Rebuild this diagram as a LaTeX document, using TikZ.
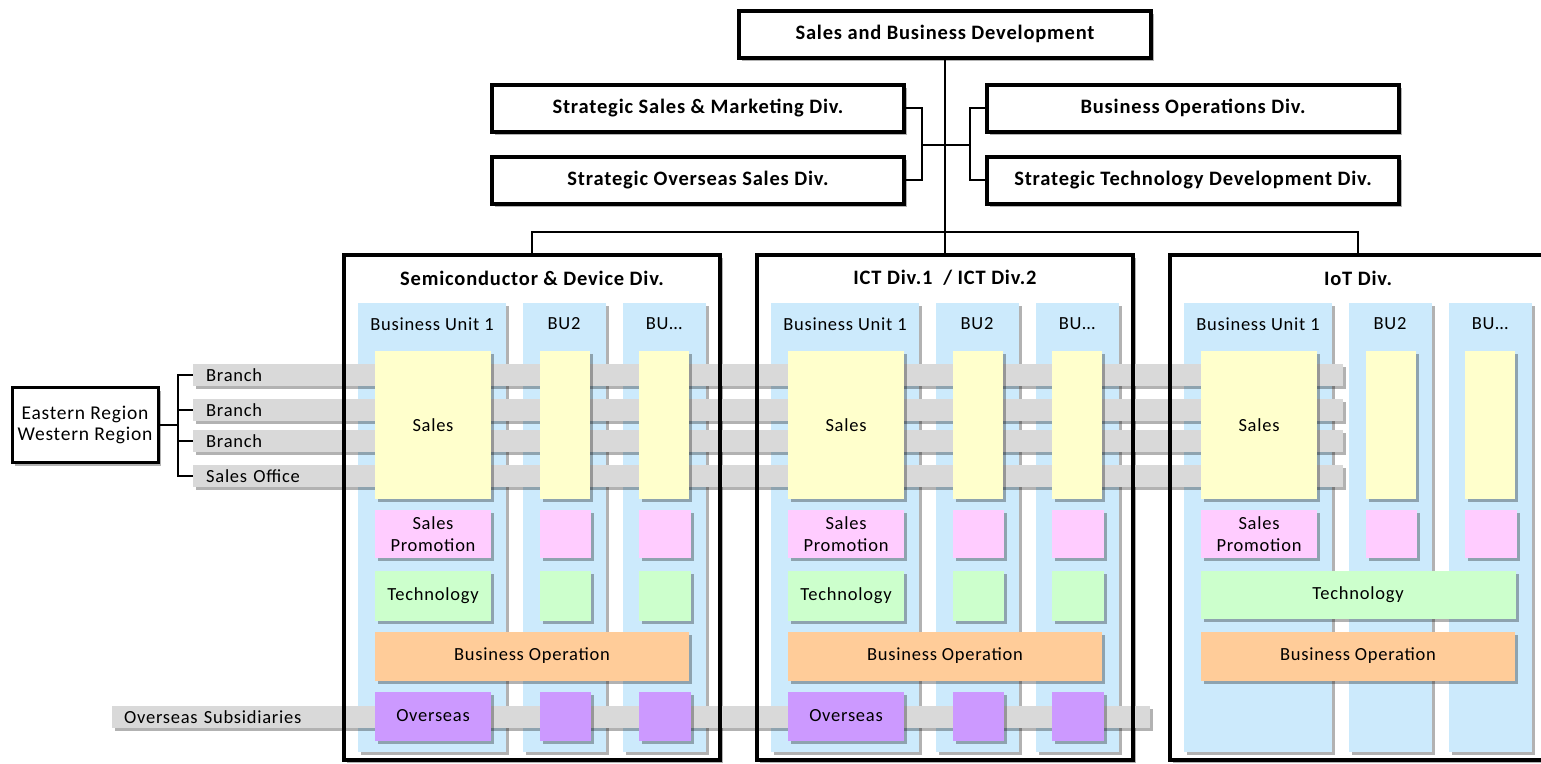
\documentclass[tikz,border=0pt]{standalone}
\usepackage{fontspec}
\setmainfont{Carlito}[LetterSpace=4]
\usetikzlibrary{positioning, shadows, calc}
\definecolor{buBlue}{RGB}{204,234,252}
\definecolor{barGray}{RGB}{217,217,217}
\definecolor{salesYellow}{RGB}{255,255,204}
\definecolor{promoPink}{RGB}{255,204,255}
\definecolor{techGreen}{RGB}{204,255,204}
\definecolor{opsOrange}{RGB}{255,204,153}
\definecolor{overPurple}{RGB}{204,153,255}

\begin{document}
\begin{tikzpicture}[
        x=1pt, y=-1pt,
        % ombre portée
        softShadow/.style={
            drop shadow={shadow xshift=3pt, shadow yshift=-3pt, opacity=.3, fill=black}
        },
        % cadres du haut
        topBox/.style={
            draw=black, line width=4pt, fill=white, softShadow,
            minimum width=412pt, minimum height=47pt, inner sep=0pt,
            font=\bfseries\fontsize{20.5}{24}\selectfont
        },
        % grandes divisions
        divBox/.style={
            fill=white, softShadow, inner sep=0pt,
            minimum width=376pt, minimum height=505pt
        },
        divLine/.style={draw=black, line width=4pt},
        divTitle/.style={font=\bfseries\fontsize{20.5}{24}\selectfont, inner sep=0pt},
        % colonnes BU
        buCol/.style={
            fill=buBlue, softShadow, inner sep=0pt, minimum height=449pt
        },
        buText/.style={font=\fontsize{18.5}{22}\selectfont, inner sep=0pt},
        % boîtes de couleur
        cellBox/.style={
            softShadow, inner sep=0pt, align=center,
            font=\fontsize{18.5}{22}\selectfont
        },
        salesBox/.style={cellBox, fill=salesYellow, minimum height=148pt},
        promoBox/.style={cellBox, fill=promoPink, minimum height=48pt},
        techBox/.style={cellBox, fill=techGreen, minimum height=50pt},
        opsBox/.style={cellBox, fill=opsOrange, minimum height=49pt},
        overBox/.style={cellBox, fill=overPurple, minimum height=49pt},
        % barres grises
        barBox/.style={
            fill=barGray, softShadow, anchor=west, inner ysep=0pt,
            minimum height=22pt, align=left,
            font=\fontsize{18.5}{22}\selectfont
        },
        regionBox/.style={
            draw=black, line width=3pt, fill=white, softShadow,
            minimum width=146pt, minimum height=75pt, inner sep=0pt,
            align=center, font=\fontsize{19.5}{21}\selectfont
        },
        treeLine/.style={draw=black, line width=1.6pt}
    ]

    \useasboundingbox (0,0) rectangle (1541,763);
    \clip (0,0) rectangle (1541,763);

    % Direction
    \node[topBox] (sbd) at (945,34) {Sales and Business Development};

    \node[topBox] (ssm) at (698,108) {Strategic Sales \& Marketing Div.};
    \node[topBox] (sos) at (698,180) {Strategic Overseas Sales Div.};
    \node[topBox] (bod) at (1193,108) {Business Operations Div.};
    \node[topBox] (std) at (1193,180) {Strategic Technology Development Div.};

    % Divisions, titres et colonnes
    \foreach \x/\nm/\ttl in {342/semi/{Semiconductor \& Device Div.}, 755/ict/{ICT Div.1\ \ / ICT Div.2}, 1168/iot/{IoT Div.}}{
        \node[divBox] (\nm) at ({\x+190},507.5) {};
        \node[divTitle] (\nm-t) at ({\x+190},278) {\ttl};
        \node[buCol, minimum width=148pt] (\nm-c1) at ({\x+90},527) {};
        \node[buCol, minimum width=83pt] (\nm-c2) at ({\x+222},527) {};
        \node[buCol, minimum width=83pt] (\nm-c3) at ({\x+322},527) {};
        \node[buText] (\nm-l1) at ({\x+90},324) {Business Unit 1};
        \node[buText] (\nm-l2) at ({\x+222},324) {BU2};
        \node[buText] (\nm-l3) at ({\x+322},324) {BU\ldots};
    }

    % Barres grises
    \node[barBox, minimum width=1150pt, text width=1124pt] (b1) at (193,375) {Branch};
    \node[barBox, minimum width=1150pt, text width=1124pt] (b2) at (193,410) {Branch};
    \node[barBox, minimum width=1150pt, text width=1124pt] (b3) at (193,441) {Branch};
    \node[barBox, minimum width=1150pt, text width=1124pt] (b4) at (193,476) {Sales Office};
    \node[barBox, minimum width=1038pt, text width=1014pt, inner xsep=12pt] (subs) at (112,717) {Overseas Subsidiaries};

    % Boîtes de couleur
    \foreach \x/\nm in {342/semi, 755/ict, 1168/iot}{
        \node[salesBox, minimum width=116pt] (\nm-s1) at ({\x+91},425) {Sales};
        \node[salesBox, minimum width=50pt] (\nm-s2) at ({\x+223},425) {};
        \node[salesBox, minimum width=50pt] (\nm-s3) at ({\x+322},425) {};
        \node[promoBox, minimum width=116pt] (\nm-p1) at ({\x+91},534) {Sales\\Promotion};
        \node[promoBox, minimum width=51pt] (\nm-p2) at ({\x+223},534) {};
        \node[promoBox, minimum width=52pt] (\nm-p3) at ({\x+323},534) {};
        \node[opsBox, minimum width=314pt] (\nm-o) at ({\x+190},656) {Business Operation};
    }
    \foreach \x/\nm in {342/semi, 755/ict}{
        \node[techBox, minimum width=116pt] (\nm-tc1) at ({\x+91},596) {Technology};
        \node[techBox, minimum width=51pt] (\nm-tc2) at ({\x+223},596) {};
        \node[techBox, minimum width=52pt] (\nm-tc3) at ({\x+323},596) {};
        \node[overBox, minimum width=116pt] (\nm-v1) at ({\x+91},716) {Overseas};
        \node[overBox, minimum width=51pt] (\nm-v2) at ({\x+223},716) {};
        \node[overBox, minimum width=52pt] (\nm-v3) at ({\x+323},716) {};
    }
    \node[techBox, minimum width=315pt, minimum height=48pt] (iot-tc) at (1358,595) {Technology};

    % Cadres des divisions
    \foreach \nm in {semi, ict, iot}
        \draw[divLine] (\nm.north west) rectangle (\nm.south east);

    % Régions
    \node[regionBox] (region) at (85,425) {Eastern Region\\Western Region};
    \coordinate (rjoin) at (178,425);
    \draw[treeLine] (region.east) -- (rjoin);
    \foreach \b in {b1, b2, b3, b4}
        \draw[treeLine] (rjoin) |- (\b.west);

    % Organigramme
    \coordinate (lbrk) at (922,145);
    \coordinate (rbrk) at (970,145);
    \draw[treeLine] (sbd.south) -- (ict.north);
    \draw[treeLine] (semi.north) -- ++(0,-23) -| (iot.north);
    \draw[treeLine] (ssm.east) -| (lbrk) |- (sos.east);
    \draw[treeLine] (bod.west) -| (rbrk) |- (std.west);
    \draw[treeLine] (lbrk) -- (rbrk);

\end{tikzpicture}
\end{document}
